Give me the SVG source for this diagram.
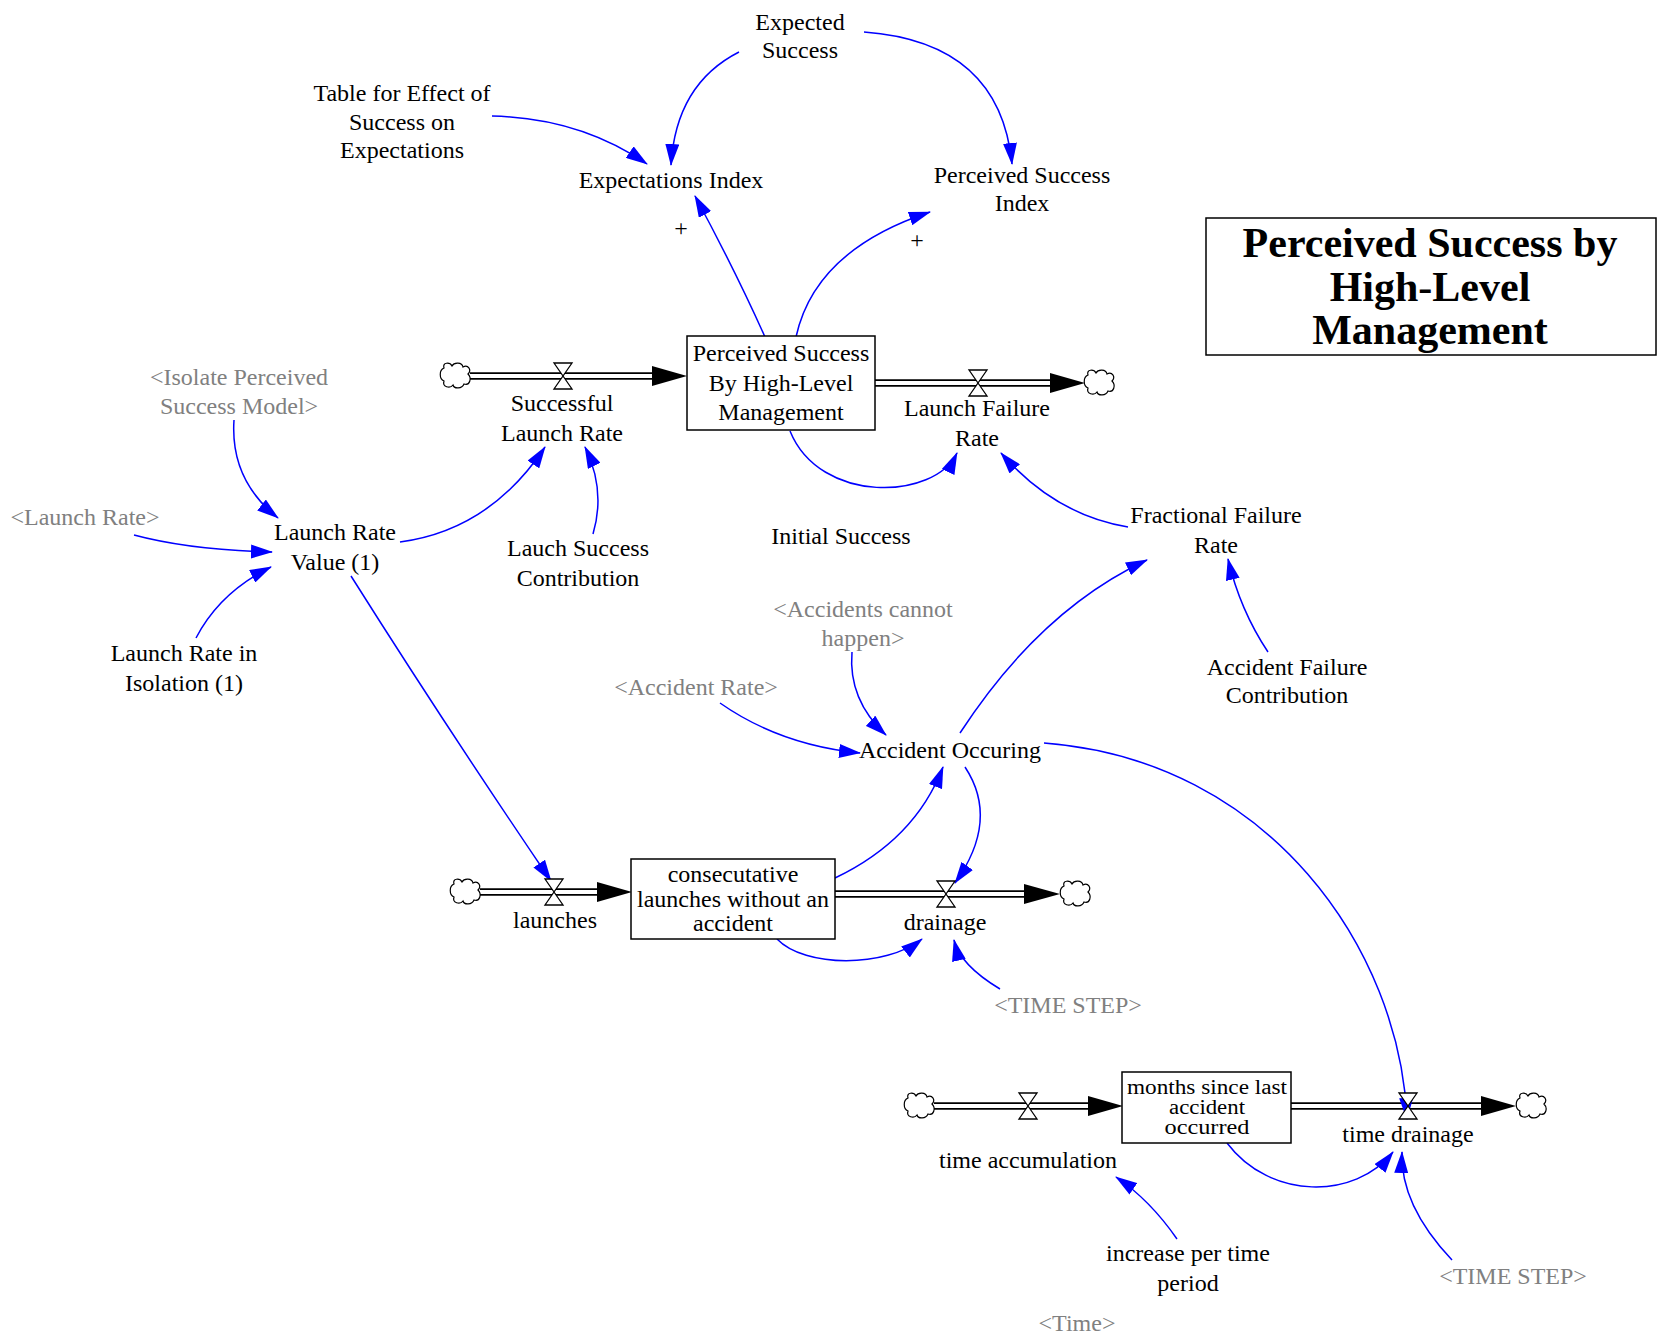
<svg xmlns="http://www.w3.org/2000/svg" width="1658" height="1339" viewBox="0 0 1658 1339">
<style>
text{font-family:"Liberation Serif","Times New Roman",serif;font-size:24px;fill:#000;text-anchor:middle}
.g{fill:#808080}
.t{font-size:42px;font-weight:bold}
.s{font-size:20px}
.box{fill:#fff;stroke:#000;stroke-width:1.5}
.c{fill:none;stroke:#0000ff;stroke-width:1.5;marker-end:url(#a)}
.po{stroke:#000;stroke-width:7.5}
.pi{stroke:#fff;stroke-width:4}
.v{fill:#fff;stroke:#000;stroke-width:1.3}
.cl{fill:#fff;stroke:#000;stroke-width:1.2}
.ah{fill:#000}
</style>
<defs>
<marker id="a" markerWidth="22" markerHeight="14" refX="21" refY="7" orient="auto" markerUnits="userSpaceOnUse"><path d="M0,0 L22,7 L0,14 Z" fill="#0000ff"/></marker>
<path id="cloud" class="cl" d="M-12,-8 C-14,-14 -6,-14 -4,-10 C-2,-14 6,-14 7,-9 C12,-12 16,-6 12,-2 C16,2 14,10 8,8 C6,13 -2,13 -3,9 C-6,13 -14,11 -12,5 C-17,3 -17,-6 -12,-8 Z"/>
<path id="valve" class="v" d="M-9,-13 H9 L-9,13 H9 Z"/>
</defs>
<rect width="1658" height="1339" fill="#fff"/>

<g id="flows">
<line class="po" x1="470" y1="376" x2="656" y2="376"/><line class="pi" x1="470" y1="376" x2="656" y2="376"/>
<polygon class="ah" points="652,366 687,376 652,386"/>
<line class="po" x1="875" y1="383" x2="1052" y2="383"/><line class="pi" x1="875" y1="383" x2="1052" y2="383"/>
<polygon class="ah" points="1050,373 1085,383 1050,393"/>
<line class="po" x1="480" y1="892" x2="600" y2="892"/><line class="pi" x1="480" y1="892" x2="600" y2="892"/>
<polygon class="ah" points="597,882 632,892 597,902"/>
<line class="po" x1="835" y1="894" x2="1027" y2="894"/><line class="pi" x1="835" y1="894" x2="1027" y2="894"/>
<polygon class="ah" points="1024,884 1060,894 1024,904"/>
<line class="po" x1="934" y1="1106" x2="1091" y2="1106"/><line class="pi" x1="934" y1="1106" x2="1091" y2="1106"/>
<polygon class="ah" points="1088,1096 1123,1106 1088,1116"/>
<line class="po" x1="1291" y1="1106" x2="1484" y2="1106"/><line class="pi" x1="1291" y1="1106" x2="1484" y2="1106"/>
<polygon class="ah" points="1481,1096 1516,1106 1481,1116"/>
<use href="#cloud" x="456" y="376"/>
<use href="#cloud" x="1100" y="383"/>
<use href="#cloud" x="466" y="892"/>
<use href="#cloud" x="1076" y="894"/>
<use href="#cloud" x="920" y="1106"/>
<use href="#cloud" x="1532" y="1106"/>
</g>

<g id="connectors">
<path class="c" d="M739,52 Q676,84 671,165"/>
<path class="c" d="M492,116 Q580,118 647,164"/>
<path class="c" d="M864,32 Q1000,42 1012,164"/>
<path class="c" d="M765,337 Q735,270 695,196"/>
<path class="c" d="M796,337 Q815,250 930,212"/>
<path class="c" d="M790,431 C820,505 935,500 957,453"/>
<path class="c" d="M1128,527 Q1055,515 1001,453"/>
<path class="c" d="M400,542 Q490,530 545,447"/>
<path class="c" d="M593,534 Q606,490 585,447"/>
<path class="c" d="M234,420 Q230,480 278,518"/>
<path class="c" d="M134,535 Q190,550 272,552"/>
<path class="c" d="M196,638 Q220,592 271,567"/>
<path class="c" d="M351,576 Q445,725 551,881"/>
<path class="c" d="M852,652 Q848,700 886,735"/>
<path class="c" d="M720,703 Q780,745 860,753"/>
<path class="c" d="M960,733 Q1040,610 1147,560"/>
<path class="c" d="M1268,652 Q1240,610 1228,559"/>
<path class="c" d="M1044,743 C1270,760 1400,950 1407,1119"/>
<path class="c" d="M835,878 Q915,840 943,767"/>
<path class="c" d="M965,767 Q1000,820 955,883"/>
<path class="c" d="M777,939 C805,968 885,968 922,939"/>
<path class="c" d="M1000,989 Q960,965 954,940"/>
<path class="c" d="M1227,1143 C1270,1200 1355,1200 1393,1152"/>
<path class="c" d="M1452,1260 Q1400,1205 1402,1152"/>
<path class="c" d="M1177,1239 Q1150,1200 1116,1177"/>
<text x="681" y="236">+</text>
<text x="917" y="248">+</text>
</g>

<g id="valves">
<use href="#valve" x="563" y="376"/>
<use href="#valve" x="978" y="383"/>
<use href="#valve" x="554" y="892"/>
<use href="#valve" x="946" y="894"/>
<use href="#valve" x="1028" y="1106"/>
<use href="#valve" x="1408" y="1106"/>
</g>

<g id="expected-success"><text x="800" y="30">Expected</text><text x="800" y="58">Success</text></g>
<g id="table-effect"><text x="402" y="101">Table for Effect of</text><text x="402" y="130">Success on</text><text x="402" y="158">Expectations</text></g>
<g id="expectations-index"><text x="671" y="188">Expectations Index</text></g>
<g id="perceived-success-index"><text x="1022" y="183">Perceived Success</text><text x="1022" y="211">Index</text></g>
<g id="title"><rect class="box" x="1206" y="218" width="450" height="137"/><text class="t" x="1430" y="257">Perceived Success by</text><text class="t" x="1430" y="301">High-Level</text><text class="t" x="1430" y="344">Management</text></g>
<g id="perceived-success-stock"><rect class="box" x="687" y="336" width="188" height="94"/><text x="781" y="361">Perceived Success</text><text x="781" y="391">By High-Level</text><text x="781" y="420">Management</text></g>
<g id="isolate-model"><text class="g" x="239" y="385">&lt;Isolate Perceived</text><text class="g" x="239" y="414">Success Model&gt;</text></g>
<g id="successful-launch-rate"><text x="562" y="411">Successful</text><text x="562" y="441">Launch Rate</text></g>
<g id="launch-failure-rate"><text x="977" y="416">Launch Failure</text><text x="977" y="446">Rate</text></g>
<g id="launch-rate-shadow"><text class="g" x="85" y="525">&lt;Launch Rate&gt;</text></g>
<g id="launch-rate-value"><text x="335" y="540">Launch Rate</text><text x="335" y="570">Value (1)</text></g>
<g id="lauch-success-contribution"><text x="578" y="556">Lauch Success</text><text x="578" y="586">Contribution</text></g>
<g id="initial-success"><text x="841" y="544">Initial Success</text></g>
<g id="fractional-failure-rate"><text x="1216" y="523">Fractional Failure</text><text x="1216" y="553">Rate</text></g>
<g id="launch-rate-isolation"><text x="184" y="661">Launch Rate in</text><text x="184" y="691">Isolation (1)</text></g>
<g id="accidents-cannot-happen"><text class="g" x="863" y="617">&lt;Accidents cannot</text><text class="g" x="863" y="646">happen&gt;</text></g>
<g id="accident-rate"><text class="g" x="696" y="695">&lt;Accident Rate&gt;</text></g>
<g id="accident-failure-contribution"><text x="1287" y="675">Accident Failure</text><text x="1287" y="703">Contribution</text></g>
<g id="accident-occuring"><text x="950" y="758">Accident Occuring</text></g>
<g id="consecutive-stock"><rect class="box" x="631" y="859" width="204" height="80"/><text x="733" y="882">consecutative</text><text x="733" y="907">launches without an</text><text x="733" y="931">accident</text></g>
<g id="launches"><text x="555" y="928">launches</text></g>
<g id="drainage"><text x="945" y="930">drainage</text></g>
<g id="time-step-1"><text class="g" x="1068" y="1013">&lt;TIME STEP&gt;</text></g>
<g id="months-stock"><rect class="box" x="1122" y="1072" width="169" height="71"/><text class="s" x="1207" y="1094" textLength="160" lengthAdjust="spacingAndGlyphs">months since last</text><text class="s" x="1207" y="1114" textLength="76" lengthAdjust="spacingAndGlyphs">accident</text><text class="s" x="1207" y="1134" textLength="85" lengthAdjust="spacingAndGlyphs">occurred</text></g>
<g id="time-accumulation"><text x="1028" y="1168">time accumulation</text></g>
<g id="time-drainage"><text x="1408" y="1142">time drainage</text></g>
<g id="increase-per-time"><text x="1188" y="1261">increase per time</text><text x="1188" y="1291">period</text></g>
<g id="time-step-2"><text class="g" x="1513" y="1284">&lt;TIME STEP&gt;</text></g>
<g id="time"><text class="g" x="1077" y="1331">&lt;Time&gt;</text></g>
</svg>
